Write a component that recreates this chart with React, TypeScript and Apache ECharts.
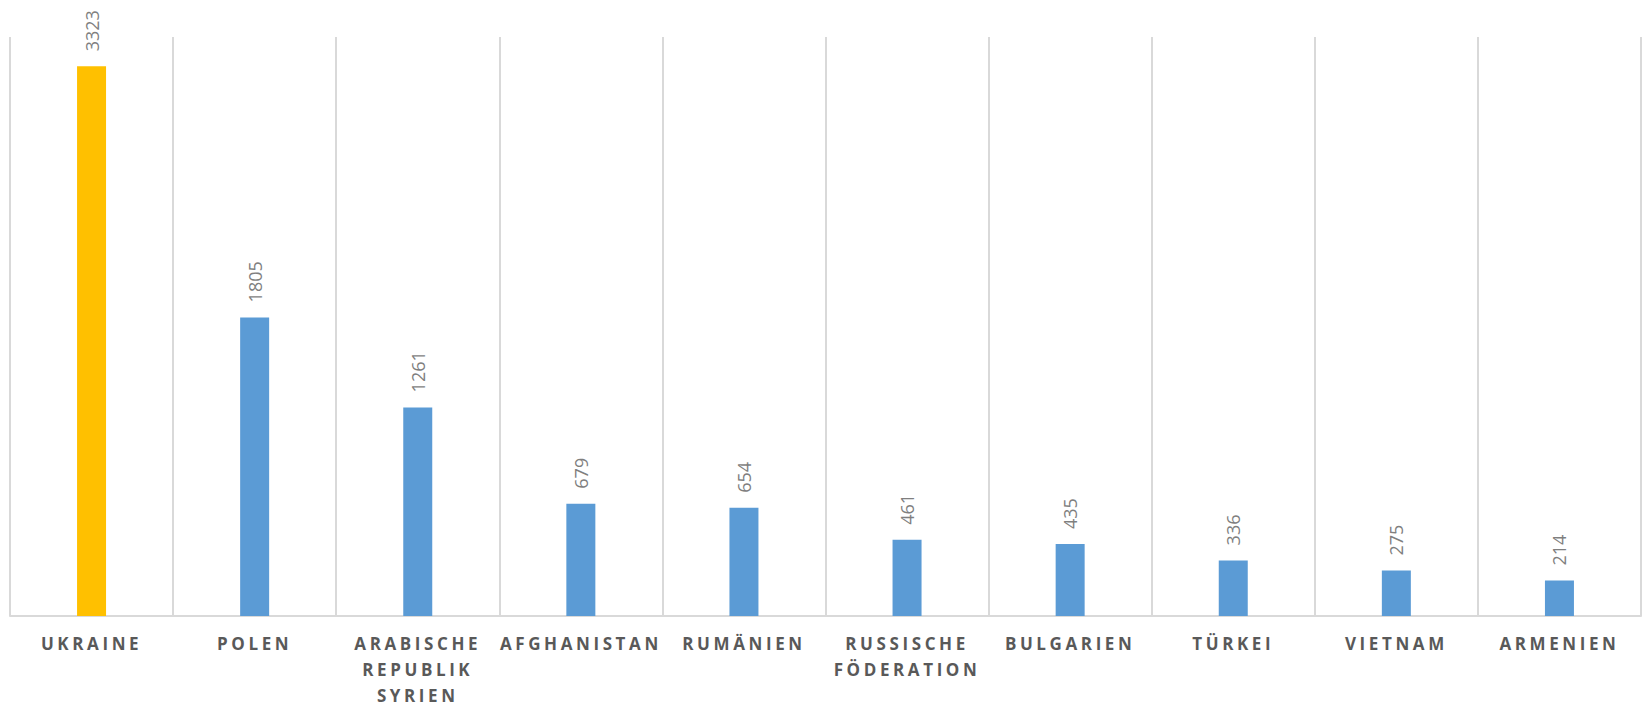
import React, { useEffect, useRef } from "react";
import * as echarts from "echarts";

const categories = [
  "UKRAINE",
  "POLEN",
  "ARABISCHE\nREPUBLIK\nSYRIEN",
  "AFGHANISTAN",
  "RUMÄNIEN",
  "RUSSISCHE\nFÖDERATION",
  "BULGARIEN",
  "TÜRKEI",
  "VIETNAM",
  "ARMENIEN",
];
const values = [3323, 1805, 1261, 679, 654, 461, 435, 336, 275, 214];
const highlightIndex = 0;

const GOLD = "#FFC000";
const BLUE = "#5B9BD5";

export default function App() {
  const ref = useRef<HTMLDivElement>(null);
  useEffect(() => {
    if (!ref.current) return;
    const chart = echarts.init(ref.current, undefined, { renderer: "svg" });
    chart.setOption({
      animation: false,
      backgroundColor: "#ffffff",
      grid: { left: 10, right: 1, top: 37, bottom: 102, containLabel: false },
      xAxis: {
        type: "category",
        data: categories,
        axisLine: { show: true, lineStyle: { color: "#d9d9d9", width: 2 } },
        axisTick: { show: false },
        splitLine: { show: true, lineStyle: { color: "#d9d9d9", width: 2 } },
        axisLabel: {
          interval: 0,
          hideOverlap: false,
          margin: 14,
          color: "#595959",
          fontFamily: "Open Sans",
          fontWeight: "bold",
          fontSize: 17,
          lineHeight: 26,
        },
      },
      yAxis: {
        type: "value",
        min: 0,
        max: 3500,
        show: false,
        splitLine: { show: false },
      },
      series: [
        {
          type: "bar",
          barWidth: 29,
          data: values.map((v, i) => ({
            value: v,
            itemStyle: { color: i === highlightIndex ? GOLD : BLUE },
          })),
          label: {
            show: true,
            position: "top",
            distance: 15,
            rotate: 90,
            align: "left",
            verticalAlign: "middle",
            color: "#7f7f7f",
            fontFamily: "Open Sans",
            fontSize: 18,
          },
        },
      ],
    });
    const words = new Set<string>();
    categories.forEach((c) => c.split("\n").forEach((w) => words.add(w)));
    ref.current.querySelectorAll("text").forEach((t) => {
      const s = (t.textContent || "").trim();
      if (words.has(s)) {
        (t as SVGTextElement).style.letterSpacing = "3.6px";
      }
    });
    return () => chart.dispose();
  }, []);
  return (
    <div
      ref={ref}
      style={{ position: "fixed", left: 0, top: 0, width: 1642, height: 718 }}
    />
  );
}
